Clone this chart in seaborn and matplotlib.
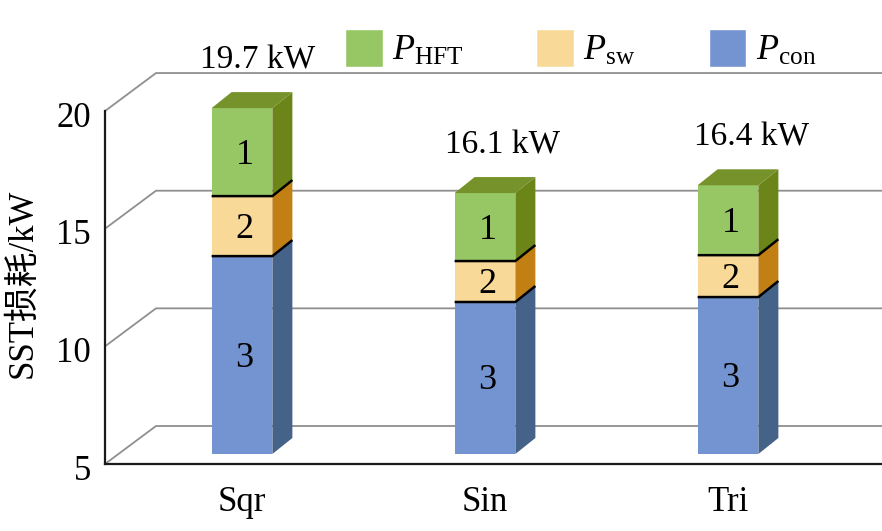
import matplotlib
matplotlib.use('Agg')
import matplotlib.pyplot as plt
import seaborn as sns
from matplotlib.patches import Patch, Polygon
from matplotlib.transforms import ScaledTranslation

categories = ['Sqr', 'Sin', 'Tri']
p_con = [13.41, 11.46, 11.67]
p_sw = [2.55, 1.74, 1.78]
p_hft = [3.74, 2.89, 2.97]
totals = ['19.7 kW', '16.1 kW', '16.4 kW']
y_ticks = [5, 10, 15, 20]
base_value = 5

sns.set_theme(style='white')
plt.rcParams['font.family'] = ['Liberation Serif', 'Noto Sans CJK SC']
plt.rcParams['mathtext.fontset'] = 'custom'
plt.rcParams['mathtext.rm'] = 'Liberation Serif'
plt.rcParams['mathtext.it'] = 'Liberation Serif:italic'

W, H = 882, 531
FS = 25
PX_PER_UNIT = 23.53
fig = plt.figure(figsize=(W / 100, H / 100), dpi=100, facecolor='white')


def px_axes(x0, y_bottom, x1, y_top):
    return fig.add_axes([x0 / W, 1 - y_bottom / H, (x1 - x0) / W, (y_bottom - y_top) / H])


# back wall and floor, x axis in pixels so the depth offset is easy to read
wall = px_axes(105, 464, 882, 60)
wall.set_xlim(0, 777)
wall.set_ylim(5, 5 + 404 / PX_PER_UNIT)
wall_dx, wall_dy = 51, 38 / PX_PER_UNIT
for t in y_ticks:
    wall.plot([0, wall_dx, 777], [t, t + wall_dy, t + wall_dy], color='#8f8f8f', lw=1.3, clip_on=False)
wall.set_xticks([])
wall.set_yticks(y_ticks)
wall.tick_params(axis='y', labelsize=FS, pad=10, length=0, labelcolor='black')
for lab in wall.get_yticklabels():
    lab.set_transform(lab.get_transform() + ScaledTranslation(0, -3 / 100, fig.dpi_scale_trans))
for s in ['top', 'right']:
    wall.spines[s].set_visible(False)
wall.spines['left'].set_bounds(5, 20)
for s in ['left', 'bottom']:
    wall.spines[s].set_color('#1a1a1a')
    wall.spines[s].set_linewidth(1.6)

# bars stand a little behind the front edge of the floor, cut off at the axis minimum
ax = px_axes(120.5, 454, 849.5, 60)
ax.patch.set_alpha(0)
series = [
    ([a - base_value for a in p_con], '#7394d0', '#456289', [base_value] * 3),
    (p_sw, '#f9d998', '#c27f14', p_con),
    (p_hft, '#97c664', '#6b8518', [a + b for a, b in zip(p_con, p_sw)]),
]
for vals, front, side, bottom in series:
    sns.barplot(x=categories, y=vals, bottom=bottom, color=front, saturation=1, width=0.25,
                edgecolor='none', linewidth=0, ax=ax)
ax.set_xlim(-0.5, 2.5)
ax.set_ylim(5, 5 + 394 / PX_PER_UNIT)
sns.despine(ax=ax, left=True, bottom=True)
ax.set_yticks([])
ax.tick_params(axis='x', labelsize=FS, pad=23, length=0, labelcolor='black')
ax.set_xlabel('')

# fake 3d depth from each bar's own geometry
dx, dy = 20 / 243, 16 / PX_PER_UNIT
top_color = '#76922a'
total_shift = [16, 18, 24]
bars = list(ax.patches)
for k, (vals, front, side, bottom) in enumerate(series):
    for i in range(3):
        b = bars[k * 3 + i]
        x0, x1 = b.get_x(), b.get_x() + b.get_width()
        y0, y1 = b.get_y(), b.get_y() + b.get_height()
        ax.add_patch(Polygon([(x1, y0), (x1 + dx, y0 + dy), (x1 + dx, y1 + dy), (x1, y1)], fc=side, ec='none'))
        if k < 2:
            ax.plot([x0, x1, x1 + dx], [y1, y1, y1 + dy], color='black', lw=1.8, solid_capstyle='butt', zorder=5)
        else:
            ax.add_patch(Polygon([(x0, y1), (x0 + dx, y1 + dy), (x1 + dx, y1 + dy), (x1, y1)], fc=top_color, ec='none'))
            ax.annotate(totals[i], (i, y1), xytext=(total_shift[i], 48), textcoords='offset pixels',
                        ha='center', va='center', fontsize=FS - 1, color='black')
        ax.annotate(str(3 - k), (i, (y0 + y1) / 2), xytext=(2.5, -3), textcoords='offset pixels',
                    ha='center', va='center', fontsize=FS + 1, color='black', zorder=6)

wall.set_ylabel('SST损耗/kW', fontsize=FS, color='black')
wall.yaxis.set_label_coords(39 / W, 248 / H, transform=fig.transFigure)

# legend
handles = [Patch(fc='#97c664'), Patch(fc='#f9d998'), Patch(fc='#7394d0')]
labels = [r'$\mathit{P}_{\mathrm{HFT}}$', r'$\mathit{P}_{\mathrm{sw}}$', r'$\mathit{P}_{\mathrm{con}}$']
leg = fig.legend(handles, labels, ncol=3, frameon=False, fontsize=FS + 1, loc='upper left',
                 bbox_to_anchor=(345 / W, 1 - 29 / H), borderaxespad=0, borderpad=0,
                 handlelength=1.05, handleheight=1.24, handletextpad=0.25, columnspacing=2.02)
for t in leg.get_texts():
    t.set_color('black')
fig.canvas.draw()
for h, n in zip(leg.legend_handles, ['1', '2', '3']):
    e = h.get_window_extent()
    fig.text((e.x0 + e.x1) / 2 / W, (e.y0 + e.y1) / 2 / H, n, ha='center', va='center', fontsize=FS + 1, color='black')

fig.savefig('out.png', dpi=100)
